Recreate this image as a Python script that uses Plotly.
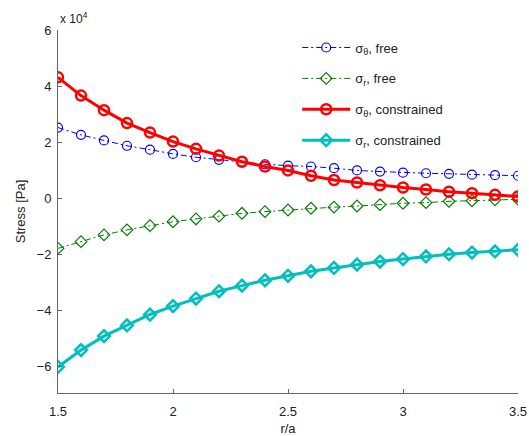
import plotly.graph_objects as go

r_a = [1.5, 1.6, 1.7, 1.8, 1.9, 2.0, 2.1, 2.2, 2.3, 2.4, 2.5,
       2.6, 2.7, 2.8, 2.9, 3.0, 3.1, 3.2, 3.3, 3.4, 3.5]

sig_theta_free = [2.52, 2.26, 2.06, 1.87, 1.73, 1.58, 1.46, 1.37, 1.30, 1.21, 1.16,
                  1.13, 1.07, 0.99, 0.95, 0.91, 0.89, 0.87, 0.84, 0.82, 0.80]
sig_r_free = [-1.79, -1.55, -1.31, -1.13, -0.98, -0.84, -0.74, -0.64, -0.54, -0.48, -0.42,
              -0.36, -0.32, -0.28, -0.23, -0.18, -0.16, -0.11, -0.09, -0.06, -0.04]
sig_theta_con = [4.31, 3.66, 3.14, 2.68, 2.34, 2.02, 1.76, 1.52, 1.30, 1.13, 0.99,
                 0.80, 0.65, 0.56, 0.46, 0.38, 0.31, 0.23, 0.18, 0.12, 0.06]
sig_r_con = [-6.02, -5.42, -4.92, -4.54, -4.15, -3.85, -3.58, -3.32, -3.12, -2.93, -2.77,
             -2.61, -2.49, -2.37, -2.26, -2.17, -2.08, -2.00, -1.94, -1.90, -1.84]
scale = 1e4

ytick_vals = [-6, -4, -2, 0, 2, 4, 6]
ytick_text = ["\u22126", "\u22124", "\u22122", "0", "2", "4", "6"]
xtick_vals = [1.5, 2, 2.5, 3, 3.5]
xtick_text = ["1.5", "2", "2.5", "3", "3.5"]

FONT = "Liberation Sans, Arial, Helvetica, sans-serif"

fig = go.Figure()
fig.add_trace(go.Scatter(
    x=r_a, y=[v * scale for v in sig_theta_free], mode="lines+markers",
    name="\u03c3<sub>\u03b8</sub>, free", legendgroup="a",
    line=dict(color="#0000ff", width=1, dash="6px,3px,2px,3px"),
    marker=dict(symbol="circle-open", size=9, color="#0000ff", line=dict(width=1.2))))
fig.add_trace(go.Scatter(
    x=r_a, y=[v * scale for v in sig_r_free], mode="lines+markers",
    name="\u03c3<sub>r</sub>, free", legendgroup="b",
    line=dict(color="#008000", width=1, dash="6px,3px,2px,3px"),
    marker=dict(symbol="diamond-open", size=9, color="#008000", line=dict(width=1.2))))
fig.add_trace(go.Scatter(
    x=r_a, y=[v * scale for v in sig_theta_con], mode="lines+markers",
    name="\u03c3<sub>\u03b8</sub>, constrained", legendgroup="c",
    line=dict(color="#ff0000", width=3),
    marker=dict(symbol="circle-open", size=10, color="#ff0000", line=dict(width=2.5))))
fig.add_trace(go.Scatter(
    x=r_a, y=[v * scale for v in sig_r_con], mode="lines+markers",
    name="\u03c3<sub>r</sub>, constrained", legendgroup="d",
    line=dict(color="#00bfbf", width=3),
    marker=dict(symbol="diamond-open", size=9, color="#00bfbf", line=dict(width=2.5))))

fig.update_layout(
    width=529, height=436,
    margin=dict(l=58, r=11, t=30, b=43),
    paper_bgcolor="white", plot_bgcolor="white",
    font=dict(family=FONT, size=13, color="#222222"),
    showlegend=True,
    legend=dict(x=0.52, y=0.993, xanchor="left", yanchor="top",
                bgcolor="rgba(255,255,255,0)", borderwidth=0,
                font=dict(family=FONT, size=13, color="#222222"),
                itemwidth=48, tracegroupgap=11),
    xaxis=dict(range=[1.5, 3.5], tickvals=xtick_vals, ticktext=xtick_text,
               showgrid=False, zeroline=False, showline=True, linecolor="#666666",
               linewidth=1, ticks="inside", ticklen=4, tickcolor="#666666",
               ticklabelstandoff=6, automargin=False,
               title=dict(text="r/a", font=dict(size=13), standoff=6),
               tickfont=dict(size=13)),
    yaxis=dict(range=[-6.95e4, 6e4], tickvals=[v * scale for v in ytick_vals], ticktext=ytick_text,
               showgrid=False, zeroline=False, showline=True, linecolor="#666666",
               linewidth=1, ticks="inside", ticklen=4, tickcolor="#666666",
               ticklabelstandoff=3, automargin=False,
               title=dict(text="Stress [Pa]", font=dict(size=13), standoff=8),
               tickfont=dict(size=13)),
    annotations=[dict(text="x 10<sup>4</sup>", x=0, y=1.0, xref="paper", yref="paper",
                      xanchor="left", yanchor="bottom", showarrow=False,
                      font=dict(family=FONT, size=12, color="#222222"), xshift=0, yshift=2)],
)

fig.write_html("out.html",
               config={"displayModeBar": False},
               post_script="document.body.style.margin='0';document.body.style.overflow='hidden';")
